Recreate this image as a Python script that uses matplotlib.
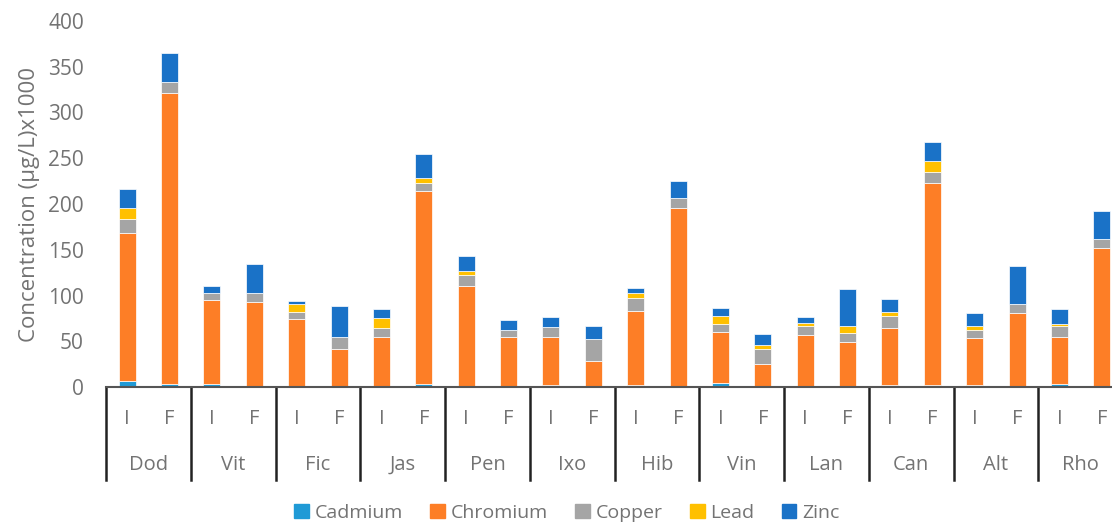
"""
Concentración de metales por especie (I = inicial, F = final)
"""

import numpy as np
import matplotlib.pyplot as plt
import matplotlib.patches as mpatches

plt.rcParams['font.family'] = ['Open Sans', 'DejaVu Sans']

# Datos
groups = ['Dod', 'Vit', 'Fic', 'Jas', 'Pen', 'Ixo', 'Hib', 'Vin', 'Lan', 'Can', 'Alt', 'Rho']
stages = ['I', 'F']

cadmium = [6.6, 3.0, 3.3, 1.0, 1.0, 0.5, 0.8, 2.9, 1.5, 0.3, 2.6, 0.3,
           1.9, 1.1, 4.4, 0.3, 1.5, 0.3, 1.9, 1.9, 1.9, 0.8, 3.5, 0.8]
chromium = [161.4, 318.0, 91.4, 92.4, 73.0, 40.5, 54.2, 210.9, 108.5, 54.7, 51.7, 28.1,
            81.7, 194.6, 55.8, 25.3, 54.8, 48.6, 62.9, 221.4, 51.3, 79.8, 51.5, 151.3]
copper = [15.4, 12.7, 8.3, 9.6, 8.4, 13.5, 9.8, 8.7, 12.3, 7.7, 11.6, 23.7,
          13.8, 10.9, 8.8, 16.0, 10.5, 10.2, 12.4, 12.1, 8.7, 9.9, 11.2, 9.5]
lead = [12.1, 0, 0, 0, 8.7, 0, 10.6, 5.9, 4.3, 0, 0, 0,
        4.8, 0, 9.1, 4.0, 2.9, 7.3, 4.8, 11.6, 4.8, 0, 2.6, 0]
zinc = [21.1, 31.6, 7.8, 31.9, 2.9, 34.3, 10.2, 26.2, 16.4, 10.2, 11.0, 14.3,
        5.5, 18.3, 8.3, 12.1, 6.6, 40.5, 13.9, 20.8, 13.9, 41.9, 16.8, 30.6]

series = [('Cadmium', cadmium, '#1f9ad6'),
          ('Chromium', chromium, '#fd7e26'),
          ('Copper', copper, '#a5a5a5'),
          ('Lead', lead, '#ffc000'),
          ('Zinc', zinc, '#1a72c7')]

text_color = '#737373'

fig = plt.figure(figsize=(11.12, 5.25), dpi=100)
# el eje derecho queda un poco fuera de la figura, igual que en el original
ax = fig.add_axes([106 / 1112, 138 / 525, 1017 / 1112, 366 / 525])

x = np.arange(len(cadmium))
bottom = np.zeros(len(x))
for name, vals, color in series:
    vals = np.array(vals)
    ax.bar(x, vals, 0.4, bottom=bottom, color=color, label=name,
           edgecolor='white', linewidth=0.5)
    bottom += vals

ax.set_xlim(-0.5, len(x) - 0.5)
ax.set_ylim(0, 400)
ax.set_yticks(np.arange(0, 401, 50))
ax.tick_params(axis='y', length=0, labelsize=15, labelcolor=text_color, pad=16)
ax.set_xticks([])
for side in ['left', 'right', 'top']:
    ax.spines[side].set_visible(False)
ax.spines['bottom'].set_color('#555555')
ax.spines['bottom'].set_linewidth(1.5)

ax.set_ylabel('Concentration (µg/L)x1000', fontsize=16, color=text_color, labelpad=6)

# Eje de categorías en dos niveles
trans = ax.get_xaxis_transform()
for i in range(len(x)):
    ax.text(x[i], -0.087, stages[i % 2], transform=trans, ha='center', va='center',
            fontsize=14.5, color=text_color)
for g, name in enumerate(groups):
    ax.text(2 * g + 0.5, -0.213, name, transform=trans, ha='center', va='center',
            fontsize=14.5, color=text_color)
for g in range(len(groups) + 1):
    ax.plot([2 * g - 0.5, 2 * g - 0.5], [0, -0.254], transform=trans, color='#222222',
            linewidth=1.8, clip_on=False)

# Leyenda
handles = [mpatches.Patch(color=c, label=n) for n, _, c in series]
fig.legend(handles=handles, loc='center', bbox_to_anchor=(567 / 1112, 12 / 525), ncol=5,
           frameon=False, fontsize=14, labelcolor=text_color, handlelength=0.75,
           handleheight=0.75, handletextpad=0.3, columnspacing=1.4, borderpad=0.2)

plt.savefig('out.png', dpi=100)
